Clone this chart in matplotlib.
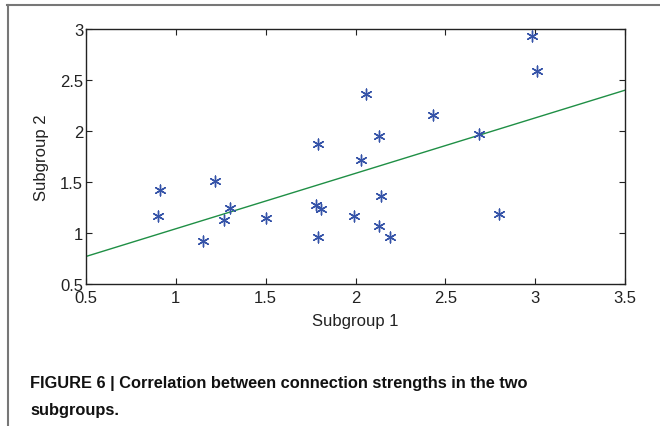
import matplotlib
matplotlib.use("Agg")
import matplotlib.pyplot as plt
from matplotlib.lines import Line2D

# Data
subgroup1 = [0.91, 0.90, 1.22, 1.30, 1.27, 1.15, 1.50, 1.79, 1.78, 1.81, 1.79, 1.99,
             2.03, 2.06, 2.13, 2.14, 2.13, 2.19, 2.43, 2.69, 2.80, 2.98, 3.01]
subgroup2 = [1.42, 1.17, 1.51, 1.25, 1.13, 0.92, 1.15, 1.87, 1.27, 1.24, 0.96, 1.17,
             1.72, 2.36, 1.95, 1.36, 1.07, 0.96, 2.16, 1.97, 1.19, 2.93, 2.59]
fit_x = [0.5, 3.5]
fit_y = [0.77, 2.40]
x_ticks = [0.5, 1, 1.5, 2, 2.5, 3, 3.5]
y_ticks = [0.5, 1, 1.5, 2, 2.5, 3]

plt.rcParams['font.family'] = ['Liberation Sans', 'DejaVu Sans']

fig = plt.figure(figsize=(6.6, 4.27), dpi=100)
ax = fig.add_axes([86/660, 1-285/427, (625-86)/660, (285-30)/427])

ax.plot(fit_x, fit_y, color='#1f8f45', lw=1.0, zorder=2)
ax.scatter(subgroup1, subgroup2, marker=(6, 2, 0), s=60, color='#3553a8',
           linewidths=1.0, zorder=3)

ax.set_xlim(0.5, 3.5)
ax.set_ylim(0.5, 3.0)
ax.set_xticks(x_ticks)
ax.set_yticks(y_ticks)
ax.set_xticklabels([f"{v:g}" for v in x_ticks])
ax.set_yticklabels([f"{v:g}" for v in y_ticks])
ax.tick_params(direction='in', length=4, width=0.8, top=True, right=True,
               labelsize=12, colors='#222222', labelcolor='#222222')
ax.tick_params(axis='x', pad=4)
ax.tick_params(axis='y', pad=2)
for s in ax.spines.values():
    s.set_linewidth(1.0)
    s.set_color('#222222')

ax.set_xlabel('Subgroup 1', fontsize=12, labelpad=6, color='#222222')
ax.set_ylabel('Subgroup 2', fontsize=12, labelpad=8, color='#222222')

# Figure border (top and left only)
fig.add_artist(Line2D([7/660, 1.0], [1-5.5/427, 1-5.5/427], transform=fig.transFigure,
                      color='#777777', lw=1.5))
fig.add_artist(Line2D([7.5/660, 7.5/660], [0, 1-5.5/427], transform=fig.transFigure,
                      color='#777777', lw=1.5))

cap_font = ['Liberation Sans', 'DejaVu Sans']
fig.text(30/660, 1-384/427, 'FIGURE 6 | Correlation between connection strengths in the two',
         fontsize=11.8, fontweight='bold', family=cap_font, va='center', ha='left',
         color='#111111')
fig.text(30/660, 1-411/427, 'subgroups.', fontsize=11.8, fontweight='bold',
         family=cap_font, va='center', ha='left', color='#111111')

fig.savefig('out.png', dpi=100)
